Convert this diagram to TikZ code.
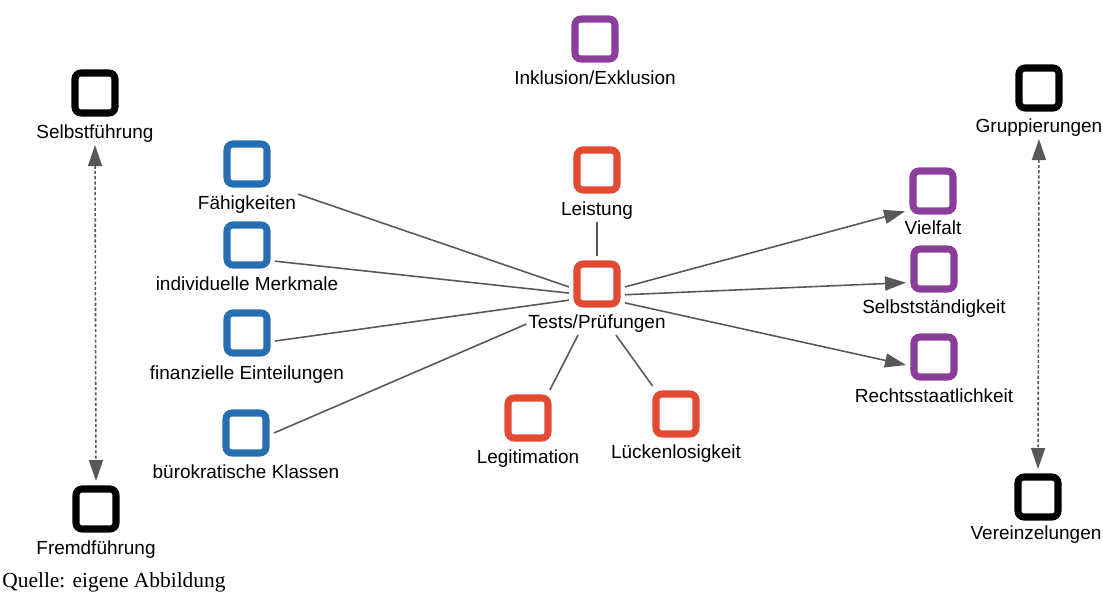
\documentclass[tikz,border=0pt]{standalone}
\usepackage{fontspec}
\setmainfont{Liberation Sans}
\newfontfamily\quellefont{Liberation Serif}
\usetikzlibrary{arrows.meta}

\definecolor{boxblue}{RGB}{38,110,178}
\definecolor{boxred}{RGB}{226,74,52}
\definecolor{boxpurple}{RGB}{138,62,154}
\definecolor{linegray}{RGB}{88,88,88}

\begin{document}
\begin{tikzpicture}[x=0.02cm,y=-0.02cm,
	box/.style={draw=#1,line width=4pt,rounded corners=0.12cm,minimum size=0.8cm,inner sep=0pt,outer sep=0.16cm},
	tag/.style={font=\fontsize{10.8}{12}\selectfont,inner sep=1pt,anchor=base},
	link/.style={draw=linegray,line width=0.9pt},
	flow/.style={link,-{Triangle[length=0.42cm,width=0.28cm]}},
	dualflow/.style={link,dash pattern=on 1.8pt off 1.2pt,{Triangle[length=0.42cm,width=0.28cm]}-{Triangle[length=0.42cm,width=0.28cm]}}]

	% frame
	\useasboundingbox (0,0) rectangle (1103,594);

	% left pair
	\node[box=black] (sf) at (95,93) {};
	\node[tag] (sf-l) at (95,139) {Selbstführung};
	\node[box=black] (ff) at (96,509) {};
	\node[tag] (ff-l) at (96,555) {Fremdführung};

	% top
	\node[box=boxpurple] (ie) at (595,39) {};
	\node[tag] (ie-l) at (595,85) {Inklusion/Exklusion};

	% right pair
	\node[box=black] (gr) at (1039,88) {};
	\node[tag] (gr-l) at (1039,133) {Gruppierungen};
	\node[box=black] (vz) at (1038,497) {};
	\node[tag] (vz-l) at (1036,540) {Vereinzelungen};

	% blue column
	\node[box=boxblue] (fa) at (247,164) {};
	\node[tag] (fa-l) at (247,210) {Fähigkeiten};
	\node[box=boxblue] (im) at (247,245) {};
	\node[tag] (im-l) at (247,291) {individuelle Merkmale};
	\node[box=boxblue] (fe) at (247,333) {};
	\node[tag] (fe-l) at (247,380) {finanzielle Einteilungen};
	\node[box=boxblue] (bk) at (246,433) {};
	\node[tag] (bk-l) at (246,479) {bürokratische Klassen};

	% red centre
	\node[box=boxred] (le) at (597,170) {};
	\node[tag] (le-l) at (597,216) {Leistung};
	\node[box=boxred] (tp) at (597,284) {};
	\node[tag] (tp-l) at (597,329) {Tests/Prüfungen};
	\node[box=boxred] (lg) at (528,418) {};
	\node[tag] (lg-l) at (528,464) {Legitimation};
	\node[box=boxred] (lk) at (676,414) {};
	\node[tag] (lk-l) at (676,459) {Lückenlosigkeit};

	% purple column
	\node[box=boxpurple] (vf) at (933,191) {};
	\node[tag] (vf-l) at (933,235) {Vielfalt};
	\node[box=boxpurple] (ss) at (934,269) {};
	\node[tag] (ss-l) at (934,314) {Selbstständigkeit};
	\node[box=boxpurple] (rs) at (934,357) {};
	\node[tag] (rs-l) at (934,403) {Rechtsstaatlichkeit};

	% lines into tests
	\draw[link] (fa-l.north east) -- (tp.186);
	\draw[link] (im.-30) -- (tp.198);
	\draw[link] (fe.-16) -- (tp.210);
	\draw[link] (bk.east) -- (tp-l.west);
	\draw[link] (le-l.south) -- (tp.north);
	\draw[link] (tp-l.210) -- (lg.52);
	\draw[link] (tp-l.-30) -- (lk.130);

	% arrows out of tests
	\draw[flow] (tp.-6) -- (vf.216);
	\draw[flow] (tp.-21) -- (ss.206);
	\draw[flow] (tp.-34) -- (rs.196);

	% dashed pairs
	\draw[dualflow] (sf-l.south) -- (ff.north);
	\draw[dualflow] (gr-l.south) -- (vz.north);

	% source
	\node[font=\quellefont\fontsize{12.2}{14}\selectfont,anchor=base west,inner sep=0pt] (quelle) at (2,588) {Quelle: eigene Abbildung};

\end{tikzpicture}
\end{document}
